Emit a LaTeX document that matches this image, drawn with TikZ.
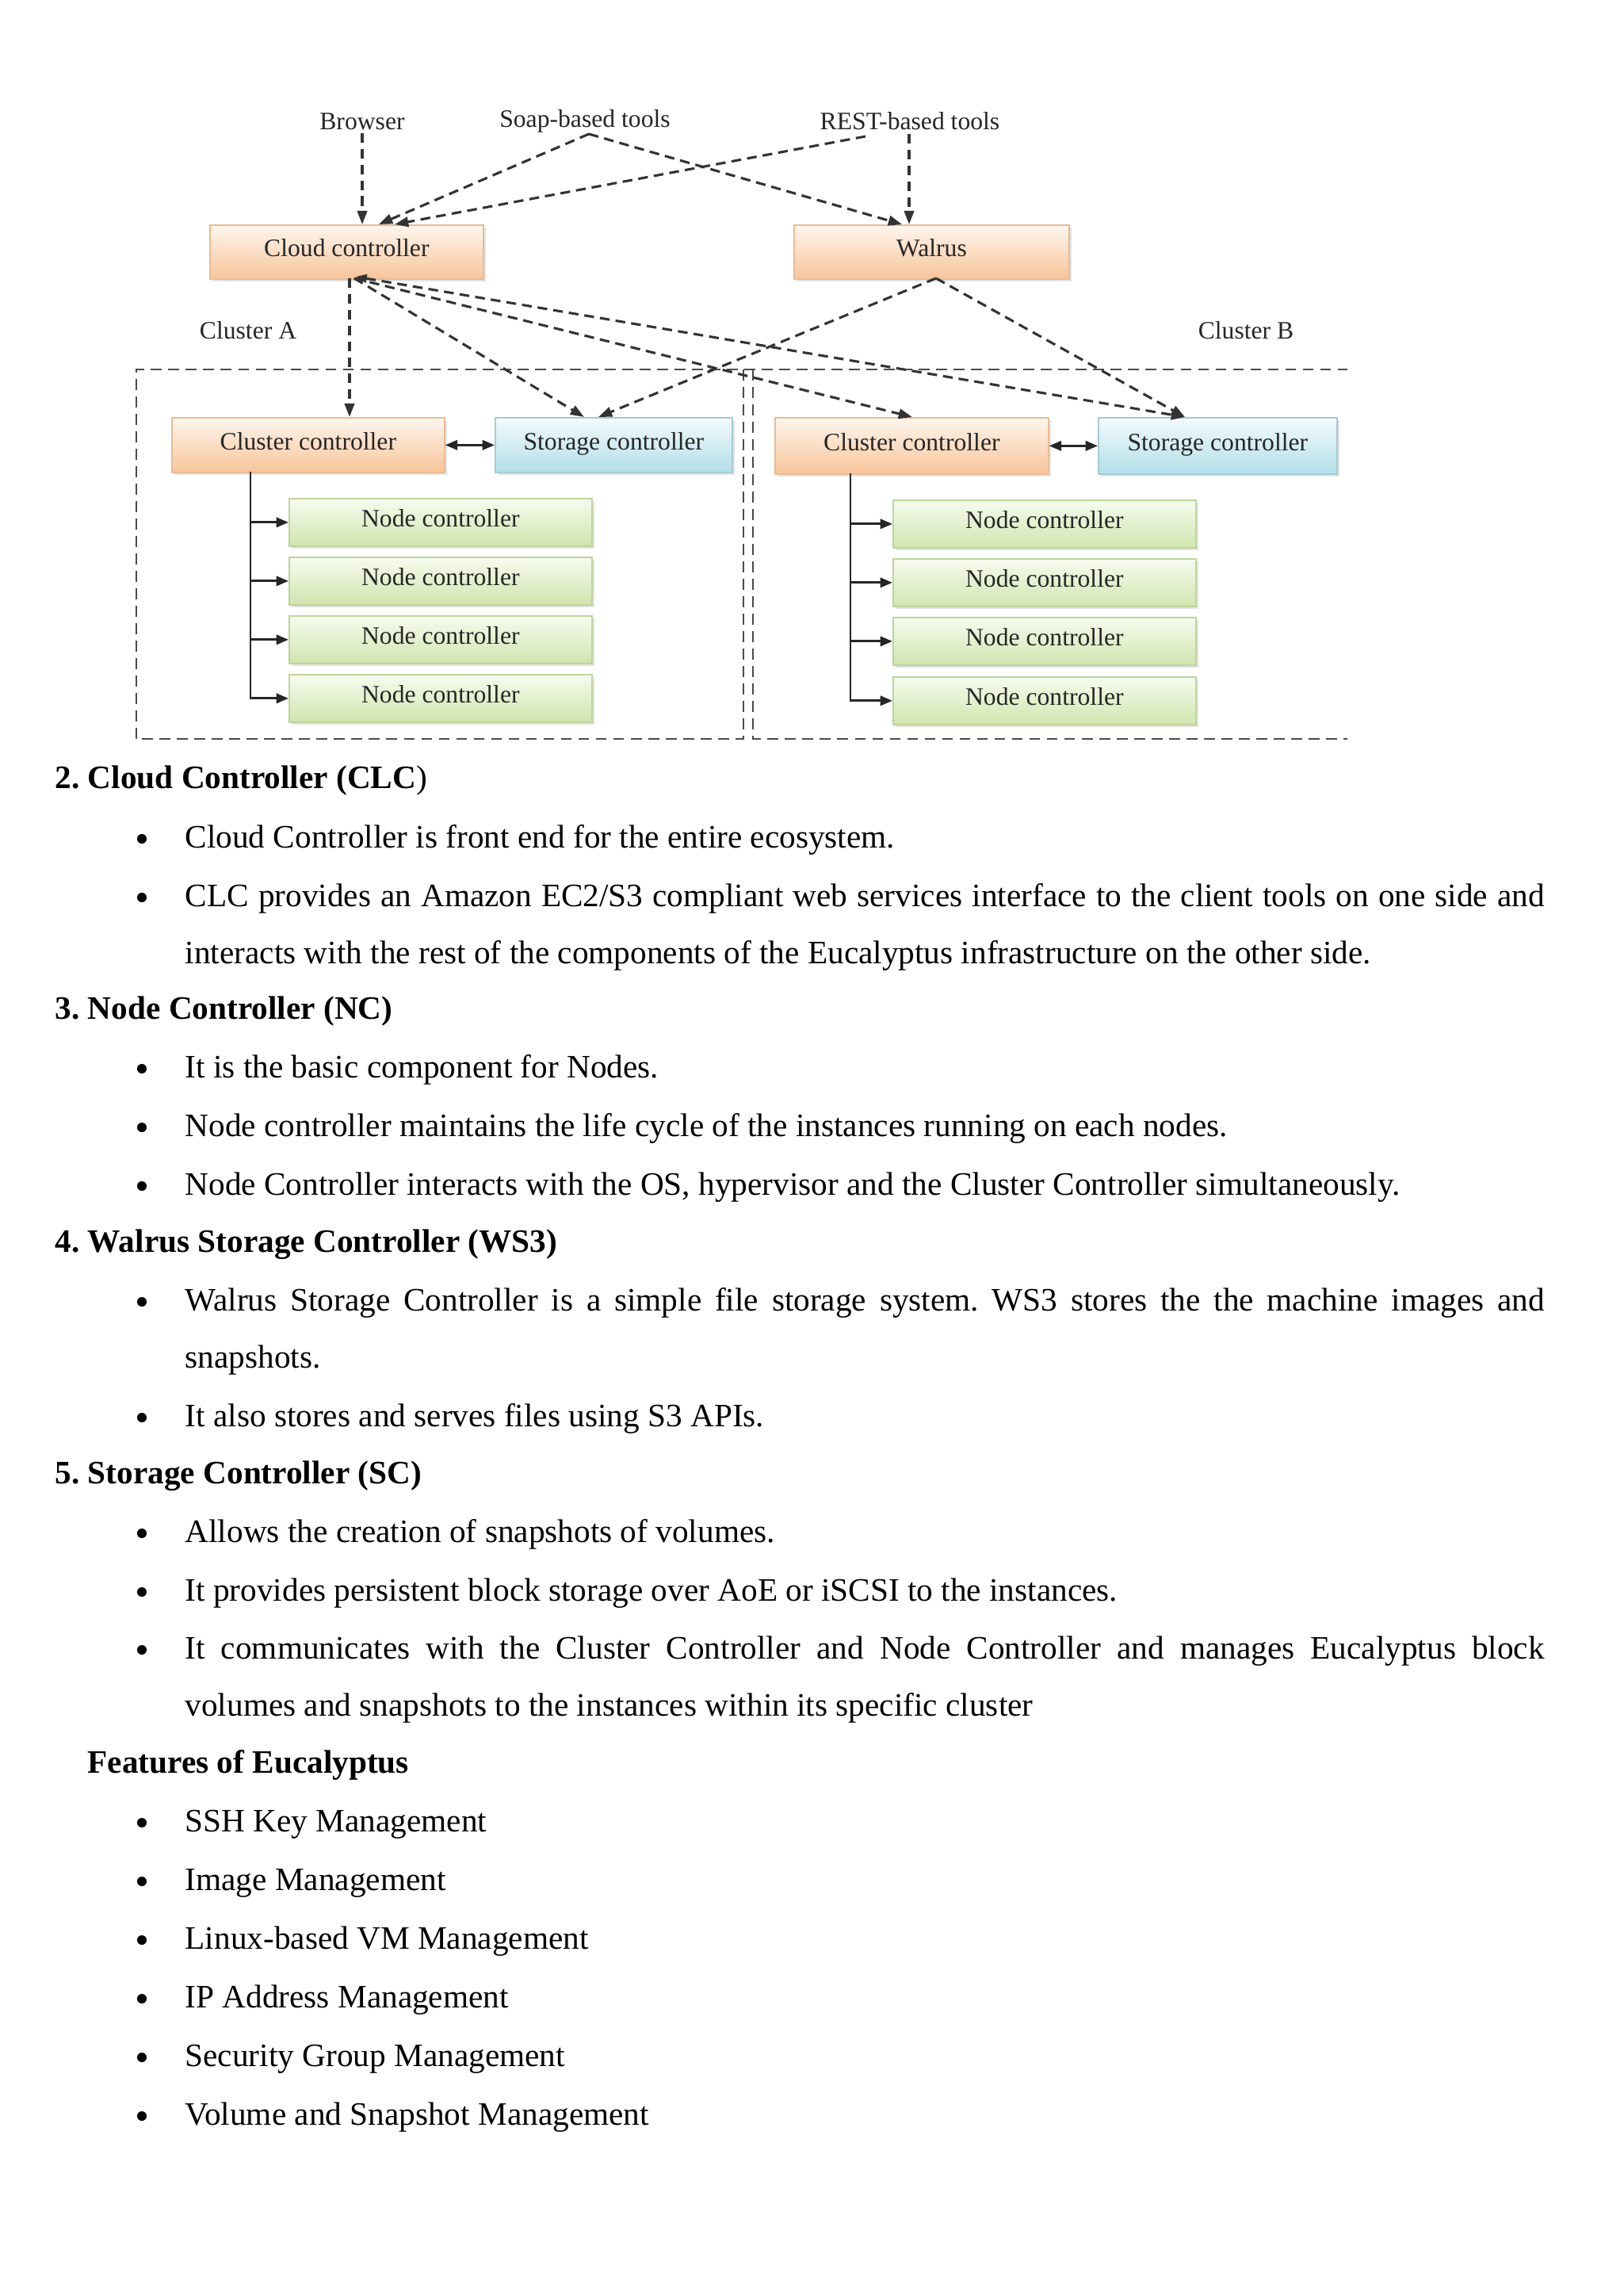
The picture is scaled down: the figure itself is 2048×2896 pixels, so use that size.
\documentclass[tikz,border=0pt]{standalone}
\usepackage{fontspec}
\setmainfont{Liberation Serif}
\usetikzlibrary{arrows.meta,shadows,calc}
\definecolor{orTop}{HTML}{FEF6EE}
\definecolor{orBot}{HTML}{F8C49A}
\definecolor{orBd}{HTML}{E6BC96}
\definecolor{blTop}{HTML}{F4FAFC}
\definecolor{blBot}{HTML}{B2DFE9}
\definecolor{blBd}{HTML}{A6CAD4}
\definecolor{gnTop}{HTML}{F7FBEF}
\definecolor{gnBot}{HTML}{D0E5AE}
\definecolor{gnBd}{HTML}{BCD49E}
\definecolor{lnGray}{HTML}{333333}
\definecolor{frGray}{HTML}{4A4A4A}
\newcommand\px[1]{#1*0.29066pt}
\frenchspacing
\begin{document}
\frenchspacing
\begin{tikzpicture}[x=0.29066pt,y=-0.29066pt,
  box/.style={draw=#1, line width=0.5pt, inner sep=0pt, anchor=north west,
    font=\fontsize{9.2}{11}\selectfont, text=black!85,
    text height=6.6pt, text depth=3.2pt,
    drop shadow={opacity=0.22, shadow xshift=0.8pt, shadow yshift=-0.8pt}},
  obox/.style={box=orBd, top color=orTop, bottom color=orBot},
  bbox/.style={box=blBd, top color=blTop, bottom color=blBot},
  gbox/.style={box=gnBd, top color=gnTop, bottom color=gnBot,
    minimum width={\px{382}}, minimum height={\px{60}}},
  lbl/.style={inner sep=1pt, font=\fontsize{9.2}{11}\selectfont, text=black!85},
  dline/.style={draw=lnGray, line width=0.9pt, dash pattern=on 3.6pt off 2.2pt},
  dtip/.style={-{Triangle[length=5pt,width=3.6pt]}},
  sline/.style={draw=black!85, line width=0.8pt},
  stip/.style={-{Triangle[length=4.5pt,width=3.6pt]}},
  fline/.style={draw=frGray, line width=0.8pt, dash pattern=on 4pt off 2.4pt},
  body/.style={anchor=base west, inner sep=0pt, font=\fontsize{12}{14}\selectfont},
  hd/.style={anchor=base west, inner sep=0pt, font=\fontsize{12}{14}\selectfont\bfseries}
]
\useasboundingbox (0,0) rectangle (2048,2896);
\fill[white] (0,0) rectangle (2048,2896);

% ---------- frames ----------
\draw[fline] (172,932) -- (172,466) -- (1700,466);
\draw[fline] (938,466) -- (938,932) -- (172,932);
\draw[fline] (950,466) -- (950,932) -- (1700,932);

% ---------- labels ----------
\node[lbl] (browser) at (457,153) {Browser};
\node[lbl] (soap) at (738,153) {Soap-based tools};
\node[lbl] (rest) at (1148,153) {REST-based tools};
\node[lbl] (cla) at (313,417) {Cluster A};
\node[lbl] (clb) at (1572,417) {Cluster B};

% ---------- boxes ----------
\node[obox, minimum width={\px{345}}, minimum height={\px{68}}] (cloud) at (264,283) {Cloud controller};
\node[obox, minimum width={\px{347}}, minimum height={\px{68}}] (walrus) at (1001,283) {Walrus};
\node[obox, minimum width={\px{344}}, minimum height={\px{69}}] (clA) at (216,526) {Cluster controller};
\node[bbox, minimum width={\px{299}}, minimum height={\px{69}}] (stA) at (624,526) {Storage controller};
\node[obox, minimum width={\px{345}}, minimum height={\px{71}}] (clB) at (977,526) {Cluster controller};
\node[bbox, minimum width={\px{301}}, minimum height={\px{71}}] (stB) at (1385,526) {Storage controller};

\node[gbox] (nA1) at (364,628) {Node controller};
\node[gbox] (nA2) at (364,702) {Node controller};
\node[gbox] (nA3) at (364,776) {Node controller};
\node[gbox] (nA4) at (364,850) {Node controller};
\node[gbox] (nB1) at (1126,630) {Node controller};
\node[gbox] (nB2) at (1126,704) {Node controller};
\node[gbox] (nB3) at (1126,778) {Node controller};
\node[gbox] (nB4) at (1126,853) {Node controller};

% ---------- connector end points ----------
\coordinate (soapS) at (743,169);
\coordinate (restS) at (1092,172);
\coordinate (restV) at (1147,169);
\coordinate (cloudT2) at (478,283);
\coordinate (cloudT3) at (498,283);
\coordinate (walT1) at (1138,283);
\coordinate (walT2) at (1147,283);
\coordinate (cloudB1) at (441,351);
\coordinate (cloudB2) at (447,351);
\coordinate (cloudB3) at (449,349);
\coordinate (walB) at (1181,351);
\coordinate (clAT) at (441,526);
\coordinate (stAT1) at (737,526);
\coordinate (stAT2) at (755,526);
\coordinate (clBT) at (1151,526);
\coordinate (stBT) at (1495,526);
\coordinate (tA) at (316,595);
\coordinate (tB) at (1073,597);

% ---------- dashed connectors ----------
\draw[dline, dtip] (browser.south) -- (browser.south |- cloud.north);
\draw[dline, dtip] (soapS) -- (cloudT2);
\draw[dline, dtip] (restS) -- (cloudT3);
\draw[dline, dtip] (soapS) -- (walT1);
\draw[dline, dtip] (restV) -- (walT2);
\draw[dline, dtip] (cloudB1) -- (clAT);
\draw[dline, dtip] (cloudB2) -- (stAT1);
\draw[dline, dtip] (cloudB2) -- (clBT);
\draw[dline, {Triangle[length=4pt,width=3pt]}-{Triangle[length=5pt,width=3.6pt]}] (cloudB3) -- (stBT);
\draw[dline, dtip] (walB) -- (stAT2);
\draw[dline, dtip] (walB) -- (stBT);

% ---------- solid connectors ----------
\draw[sline, {Triangle[length=4.5pt,width=3.6pt]}-{Triangle[length=4.5pt,width=3.6pt]}] (clA.east) -- (stA.west);
\draw[sline, {Triangle[length=4.5pt,width=3.6pt]}-{Triangle[length=4.5pt,width=3.6pt]}] (clB.east) -- (stB.west);
\draw[sline, stip] (tA) |- (nA1.west);
\draw[sline, stip] (tA) |- (nA2.west);
\draw[sline, stip] (tA) |- (nA3.west);
\draw[sline, stip] (tA) |- (nA4.west);
\draw[sline, stip] (tB) |- (nB1.west);
\draw[sline, stip] (tB) |- (nB2.west);
\draw[sline, stip] (tB) |- (nB3.west);
\draw[sline, stip] (tB) |- (nB4.west);

% ---------- body text ----------
\node[hd] (h2) at (69,994) {2. Cloud Controller (CLC\mdseries)};
\node[body] (t1) at (233,1069) {Cloud Controller is front end for the entire ecosystem.};
\node[body] (t2) at (233,1143) {\makebox[498.5pt][s]{CLC provides an Amazon EC2/S3 compliant web services interface to the client tools on one side and}};
\node[body] (t3) at (233,1215) {interacts with the rest of the components of the Eucalyptus infrastructure on the other side.};
\node[hd] (h3) at (69,1285) {3. Node Controller (NC)};
\node[body] (t4) at (233,1359) {It is the basic component for Nodes.};
\node[body] (t5) at (233,1433) {Node controller maintains the life cycle of the instances running on each nodes.};
\node[body] (t6) at (233,1507) {Node Controller interacts with the OS, hypervisor and the Cluster Controller simultaneously.};
\node[hd] (h4) at (69,1579) {4. Walrus Storage Controller (WS3)};
\node[body] (t7) at (233,1653) {\makebox[498.5pt][s]{Walrus Storage Controller is a simple file storage system. WS3 stores the the machine images and}};
\node[body] (t8) at (233,1725) {snapshots.};
\node[body] (t9) at (233,1799) {It also stores and serves files using S3 APIs.};
\node[hd] (h5) at (69,1871) {5. Storage Controller (SC)};
\node[body] (t10) at (233,1945) {Allows the creation of snapshots of volumes.};
\node[body] (t11) at (233,2019) {It provides persistent block storage over AoE or iSCSI to the instances.};
\node[body] (t12) at (233,2092) {\makebox[498.5pt][s]{It communicates with the Cluster Controller and Node Controller and manages Eucalyptus block}};
\node[body] (t13) at (233,2164) {volumes and snapshots to the instances within its specific cluster};
\node[hd] (hf) at (110,2236) {Features of Eucalyptus};
\node[body] (f1) at (233,2310) {SSH Key Management};
\node[body] (f2) at (233,2384) {Image Management};
\node[body] (f3) at (233,2458) {Linux-based VM Management};
\node[body] (f4) at (233,2532) {IP Address Management};
\node[body] (f5) at (233,2606) {Security Group Management};
\node[body] (f6) at (233,2680) {Volume and Snapshot Management};

% ---------- bullets ----------
\foreach \yy in {1069,1143,1359,1433,1507,1653,1799,1945,2019,2092,2310,2384,2458,2532,2606,2680}
  \fill (179,\yy-11) circle[radius=1.75pt];
\end{tikzpicture}
\end{document}
